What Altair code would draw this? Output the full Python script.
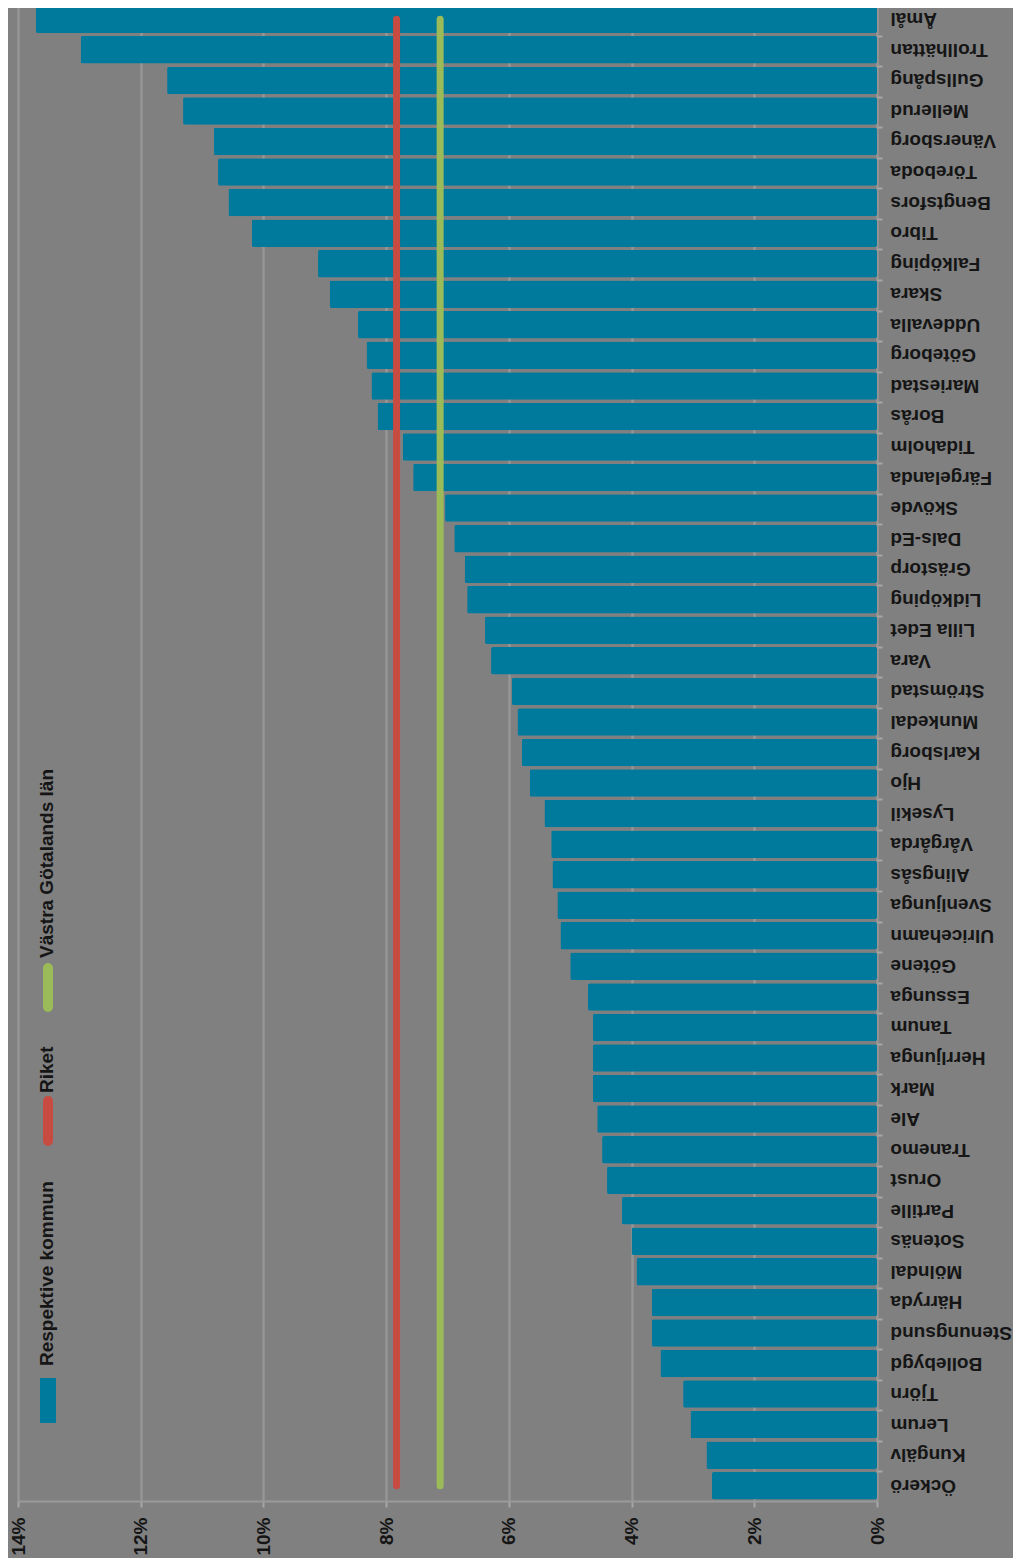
import altair as alt
import pandas as pd

kommuner = [
    "Åmål", "Trollhättan", "Gullspång", "Mellerud", "Vänersborg", "Töreboda",
    "Bengtsfors", "Tibro", "Falköping", "Skara", "Uddevalla", "Göteborg",
    "Mariestad", "Borås", "Tidaholm", "Färgelanda", "Skövde", "Dals-Ed",
    "Grästorp", "Lidköping", "Lilla Edet", "Vara", "Strömstad", "Munkedal",
    "Karlsborg", "Hjo", "Lysekil", "Vårgårda", "Alingsås", "Svenljunga",
    "Ulricehamn", "Götene", "Essunga", "Tanum", "Herrljunga", "Mark", "Ale",
    "Tranemo", "Orust", "Partille", "Sotenäs", "Mölndal", "Härryda",
    "Stenungsund", "Bollebygd", "Tjörn", "Lerum", "Kungälv", "Öckerö",
]
andel = [
    13.71, 12.98, 11.57, 11.31, 10.81, 10.74,
    10.57, 10.19, 9.11, 8.92, 8.46, 8.32,
    8.24, 8.14, 7.73, 7.56, 7.04, 6.89,
    6.72, 6.68, 6.39, 6.29, 5.95, 5.86,
    5.79, 5.66, 5.42, 5.31, 5.29, 5.21,
    5.16, 5.00, 4.71, 4.63, 4.63, 4.63, 4.56,
    4.48, 4.40, 4.16, 4.00, 3.92, 3.67,
    3.67, 3.53, 3.16, 3.04, 2.78, 2.69,
]
serie_namn = ["Riket", "Västra Götalands län"]
serie_varden = [7.83, 7.12]
legend_namn = ["Respektive kommun", "Riket", "Västra Götalands län"]
x_ticks = [0, 2, 4, 6, 8, 10, 12, 14]

BG = "#808080"
BLUE = "#007A9C"
RED = "#C84B41"
GREEN = "#9BBB59"
TXT = "#151515"
FONT = "Liberation Sans"

df = pd.DataFrame({"kommun": kommuner, "andel": andel})
lines = pd.DataFrame({
    "serie": serie_namn,
    "varde": serie_varden,
    "start": [kommuner[0]] * len(serie_namn),
    "slut": [kommuner[-1]] * len(serie_namn),
})

PAD_L = 10
W, H = 869 - PAD_L, 1497

x_scale = alt.Scale(domain=[0, 14], reverse=True, nice=False, zero=True)
y_scale = alt.Scale(domain=kommuner, paddingInner=0.1, paddingOuter=0.05)

x_axis = alt.Axis(
    orient="bottom", values=x_ticks, labelExpr="datum.value + '%'",
    labelAngle=270, labelAlign="right", labelBaseline="middle",
    labelFont=FONT, labelFontSize=19, labelFontWeight="bold", labelColor=TXT,
    labelPadding=10, tickSize=6, tickColor="#a6a6a6", tickWidth=2,
    domainColor="#9a9a9a", domainWidth=2,
    grid=True, gridColor="#969696", gridWidth=2.5, title=None,
)
y_axis = alt.Axis(
    orient="right", labelAngle=180, labelAlign="right", labelBaseline="middle",
    labelFont=FONT, labelFontSize=19, labelFontWeight="bold", labelColor=TXT,
    labelPadding=8, tickSize=5, tickColor="#a6a6a6", tickWidth=2,
    bandPosition=0, domain=False, grid=False, title=None, labelLimit=300,
)

bars = alt.Chart(df).mark_bar(color=BLUE, cornerRadius=2).encode(
    x=alt.X("andel:Q", scale=x_scale, axis=x_axis),
    y=alt.Y("kommun:N", scale=y_scale, axis=y_axis),
)

rules = alt.Chart(lines).mark_rule(strokeWidth=7, strokeCap="round").encode(
    x=alt.X("varde:Q", scale=x_scale, axis=x_axis),
    y=alt.Y("start:N", scale=y_scale, axis=y_axis),
    y2="slut:N",
    color=alt.Color("serie:N", scale=alt.Scale(domain=serie_namn, range=[RED, GREEN]), legend=None),
)

# manual legend (rotated text as in the reference); pixel positions in plot coords
lx = 40 - 8 - PAD_L  # left edge of swatch
leg_layers = []
blue_sw = alt.Chart(pd.DataFrame({"t": [legend_namn[0]]})).mark_rect(color=BLUE, cornerRadius=1).encode(
    x=alt.value(lx), x2=alt.value(lx + 16), y=alt.value(1374), y2=alt.value(1419))
red_sw = alt.Chart(pd.DataFrame({"t": [legend_namn[1]]})).mark_rule(color=RED, strokeWidth=10, strokeCap="round").encode(
    x=alt.value(lx + 8), y=alt.value(1097), y2=alt.value(1137))
green_sw = alt.Chart(pd.DataFrame({"t": [legend_namn[2]]})).mark_rule(color=GREEN, strokeWidth=10, strokeCap="round").encode(
    x=alt.value(lx + 8), y=alt.value(964), y2=alt.value(1003))
leg_layers += [blue_sw, red_sw, green_sw]

text_y = [1362, 1089, 954]
for name, ty in zip(legend_namn, text_y):
    leg_layers.append(
        alt.Chart(pd.DataFrame({"t": [name]})).mark_text(
            angle=270, align="left", baseline="middle", font=FONT,
            fontSize=19, fontWeight="bold", color=TXT,
        ).encode(x=alt.value(lx + 7), y=alt.value(ty), text="t:N")
    )

chart = alt.layer(bars, rules, *leg_layers).properties(
    width=W, height=H, background=BG,
    padding={"left": PAD_L, "top": -4, "right": 1005 - PAD_L - W, "bottom": 57},
    autosize=alt.AutoSizeParams(type="none"),
).configure_view(stroke=None)

chart.save("out.html", embed_options={"renderer": "svg", "actions": False})
